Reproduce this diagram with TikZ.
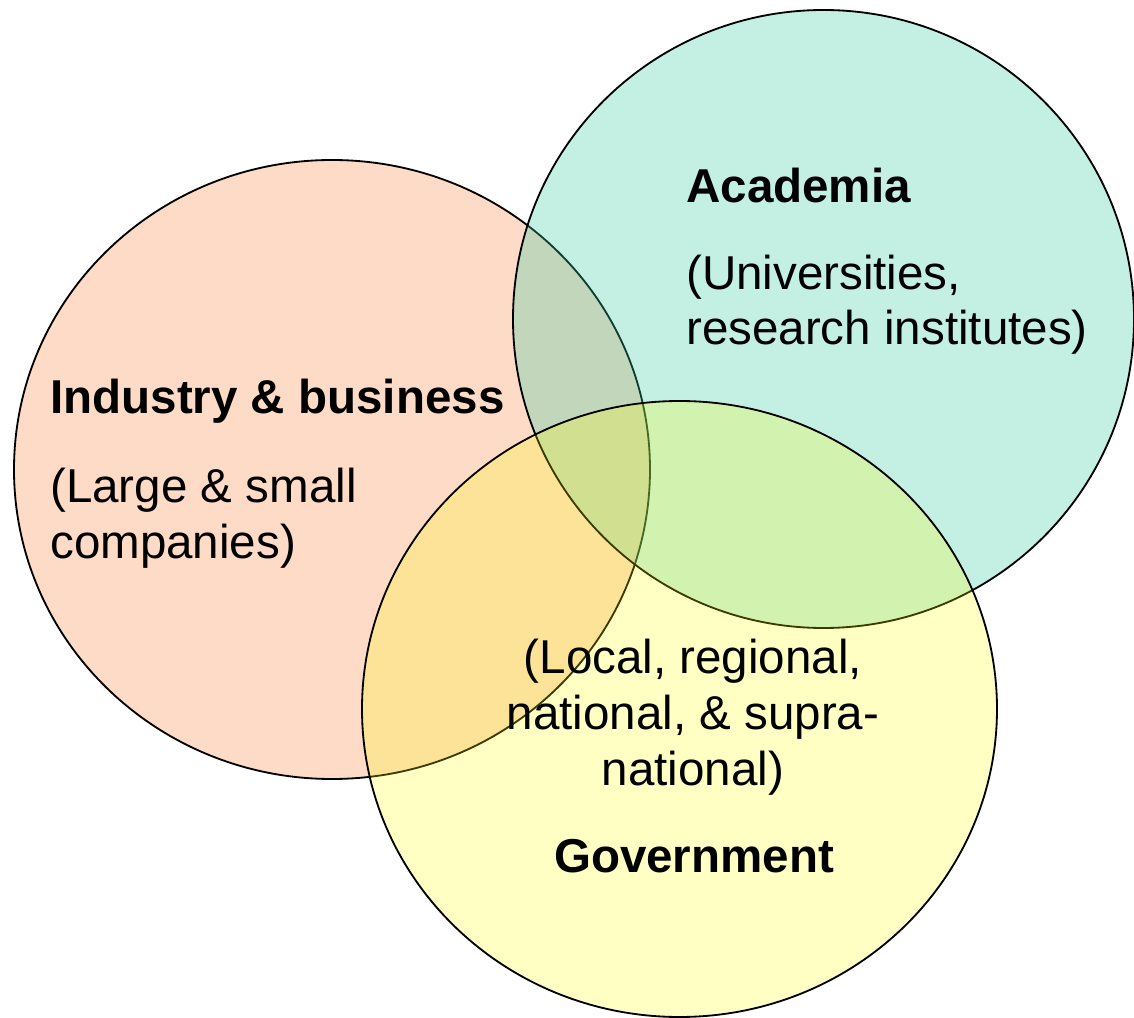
\documentclass[tikz,border=0pt]{standalone}
\usepackage{fontspec}
\setmainfont{Liberation Sans}
\definecolor{indfill}{RGB}{253,219,198}
\definecolor{acafill}{RGB}{58,205,165}
\definecolor{govfill}{RGB}{255,255,0}
\begin{document}
\begin{tikzpicture}[x=0.025cm,y=-0.025cm,
  ring/.style={draw=black,line width=1.3pt},
  lbl/.style={font=\fontsize{33.8}{39.5}\selectfont,inner sep=0pt,align=left}]
\useasboundingbox (0,0) rectangle (1134,1018);
\draw [ring,fill=indfill] (332,469.5) ellipse [x radius=318,y radius=309.5];
\draw [ring,fill=acafill,fill opacity=0.3] (823.5,319) ellipse [x radius=310.5,y radius=309];
\draw [ring,fill=govfill,fill opacity=0.23] (679.5,709) ellipse [x radius=317.5,y radius=308];
% labels (base of a wrapped node = its last line)
\node [lbl,anchor=base west,font=\fontsize{33.8}{39.5}\selectfont\bfseries] (aca) at (686,203) {Academia};
\node [lbl,anchor=base west] (acasub) at (686,345) {(Universities,\\research institutes)};
\node [lbl,anchor=base west,font=\fontsize{33.8}{39.5}\selectfont\bfseries] (ind) at (50,414) {Industry \& business};
\node [lbl,anchor=base west] (indsub) at (50,558) {(Large \& small\\companies)};
\node [lbl,anchor=base,align=center] (govsub) at (693,785) {(Local, regional,\\national, \& supra-\\national)};
\node [lbl,anchor=base,font=\fontsize{33.8}{39.5}\selectfont\bfseries] (gov) at (694,872) {Government};
\end{tikzpicture}
\end{document}
